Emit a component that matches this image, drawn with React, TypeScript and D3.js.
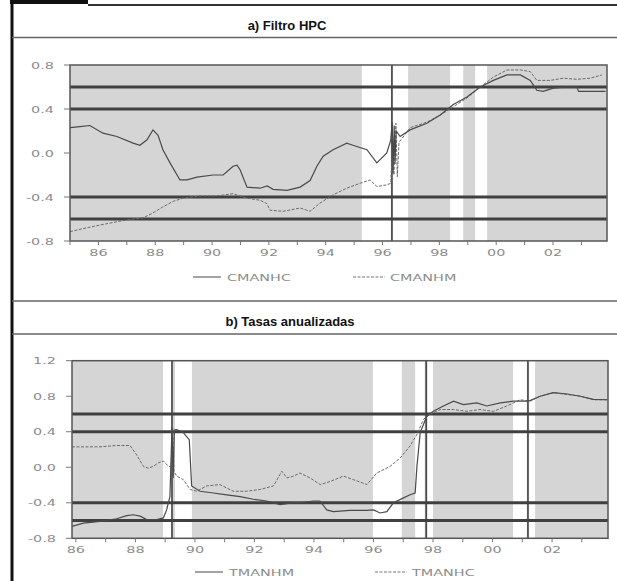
import React from 'react';
import * as d3 from 'd3';

// ---------- Data (decimal year, value) ----------
const CMANHC: [number, number][] = [
  [1985.0, 0.23], [1985.35, 0.24], [1985.7, 0.25], [1986.16, 0.18], [1986.65, 0.15], [1987.22, 0.09],
  [1987.46, 0.07], [1987.71, 0.12], [1987.92, 0.21], [1988.1, 0.16], [1988.27, 0.03],
  [1988.52, -0.09], [1988.87, -0.245], [1989.12, -0.245], [1989.47, -0.22], [1990.04, -0.2],
  [1990.39, -0.2], [1990.74, -0.12], [1990.88, -0.11], [1990.99, -0.155], [1991.23, -0.31],
  [1991.69, -0.32], [1991.94, -0.3], [1992.15, -0.33], [1992.64, -0.34], [1993.1, -0.31],
  [1993.45, -0.25], [1993.69, -0.12], [1993.91, -0.03], [1994.26, 0.03], [1994.74, 0.09],
  [1994.96, 0.07], [1995.45, 0.03], [1995.8, -0.09], [1996.15, 0.0], [1996.29, 0.12],
  [1996.34, 0.28], [1996.37, -0.18], [1996.41, 0.25], [1996.44, -0.1], [1996.48, 0.2],
  [1996.62, 0.15], [1996.97, 0.21], [1997.56, 0.27], [1998.03, 0.345], [1998.49, 0.44],
  [1998.97, 0.51], [1999.44, 0.6], [1999.9, 0.66], [2000.38, 0.71], [2000.85, 0.71],
  [2001.2, 0.66], [2001.43, 0.57], [2001.65, 0.56], [2002.01, 0.59], [2002.49, 0.6],
  [2002.84, 0.6], [2002.9, 0.56], [2003.31, 0.56], [2003.85, 0.56],
];

const CMANHM: [number, number][] = [
  [1985.0, -0.715], [1985.59, -0.68], [1986.06, -0.655], [1986.64, -0.625], [1987.22, -0.6],
  [1987.57, -0.59], [1987.92, -0.545], [1988.27, -0.49], [1988.63, -0.44], [1988.98, -0.41],
  [1989.58, -0.39], [1990.17, -0.39], [1990.74, -0.37], [1991.22, -0.41], [1991.69, -0.43],
  [1991.93, -0.46], [1992.04, -0.52], [1992.5, -0.53], [1993.1, -0.5], [1993.45, -0.53],
  [1993.8, -0.455], [1994.26, -0.38], [1994.74, -0.32], [1995.21, -0.275], [1995.56, -0.245],
  [1995.8, -0.305], [1996.15, -0.29], [1996.29, -0.275], [1996.35, 0.05], [1996.4, -0.2],
  [1996.47, 0.27], [1996.52, -0.215], [1996.58, 0.1], [1996.65, 0.12], [1996.97, 0.23],
  [1997.56, 0.28], [1998.03, 0.345], [1998.49, 0.42], [1998.97, 0.5], [1999.44, 0.6],
  [1999.9, 0.69], [2000.38, 0.755], [2000.85, 0.755], [2001.2, 0.74], [2001.43, 0.66],
  [2001.9, 0.66], [2002.36, 0.68], [2002.84, 0.67], [2003.31, 0.68], [2003.72, 0.71],
];

const TMANHM: [number, number][] = [
  [1985.87, -0.665], [1986.25, -0.63], [1986.81, -0.61], [1987.37, -0.58], [1987.71, -0.545],
  [1987.93, -0.535], [1988.16, -0.55], [1988.38, -0.59], [1988.72, -0.59], [1988.94, -0.57],
  [1989.05, -0.48], [1989.16, -0.33], [1989.23, 0.45], [1989.27, -0.12], [1989.31, 0.42],
  [1989.39, 0.425], [1989.61, 0.39], [1989.81, 0.31], [1989.89, -0.21], [1990.17, -0.27],
  [1990.62, -0.29], [1991.07, -0.31], [1991.52, -0.33], [1991.96, -0.36], [1992.41, -0.38],
  [1992.86, -0.42], [1993.31, -0.4], [1993.53, -0.4], [1993.98, -0.38], [1994.2, -0.38],
  [1994.43, -0.48], [1994.65, -0.5], [1995.21, -0.485], [1995.78, -0.485], [1996.0, -0.48],
  [1996.22, -0.515], [1996.45, -0.5], [1996.67, -0.4], [1997.01, -0.345], [1997.23, -0.31],
  [1997.4, -0.29], [1997.46, 0.01], [1997.57, 0.39], [1997.79, 0.575], [1998.01, 0.63],
  [1998.35, 0.69], [1998.69, 0.745], [1999.02, 0.705], [1999.47, 0.725], [1999.81, 0.69],
  [2000.26, 0.725], [2000.7, 0.745], [2001.15, 0.745], [2001.26, 0.75], [2001.6, 0.8],
  [2002.04, 0.84], [2002.5, 0.825], [2002.95, 0.8], [2003.39, 0.765], [2003.86, 0.76],
];

const TMANHC: [number, number][] = [
  [1985.87, 0.23], [1986.81, 0.23], [1987.37, 0.245], [1987.82, 0.245], [1988.04, 0.14],
  [1988.27, 0.01], [1988.43, -0.01], [1988.6, 0.01], [1988.77, 0.05], [1988.94, 0.07],
  [1989.05, 0.03], [1989.2, 0.0], [1989.25, 0.46], [1989.3, -0.05], [1989.39, -0.1],
  [1989.61, -0.14], [1989.84, -0.25], [1990.06, -0.27], [1990.4, -0.21], [1990.84, -0.195],
  [1991.29, -0.27], [1991.74, -0.27], [1992.19, -0.25], [1992.64, -0.21], [1992.92, -0.045],
  [1993.09, -0.12], [1993.31, -0.1], [1993.53, -0.065], [1993.87, -0.12], [1994.21, -0.195],
  [1994.54, -0.16], [1994.99, -0.1], [1995.33, -0.14], [1995.78, -0.195], [1996.11, -0.065],
  [1996.56, 0.01], [1996.9, 0.105], [1997.23, 0.24], [1997.46, 0.37], [1997.68, 0.54],
  [1997.9, 0.595], [1998.24, 0.65], [1998.68, 0.65], [1999.14, 0.63], [1999.58, 0.65],
  [2000.03, 0.63], [2000.48, 0.69], [2000.93, 0.76], [2001.26, 0.745], [2001.6, 0.8],
  [2002.04, 0.84], [2002.5, 0.82], [2002.95, 0.8], [2003.39, 0.76], [2003.86, 0.76],
];

const A_WHITE: [number, number][] = [[1995.27, 1996.29], [1996.37, 1996.9], [1998.38, 1998.84], [1999.26, 1999.68]];
const A_VLINES = [1996.33];
const B_WHITE: [number, number][] = [
  [1988.93, 1989.2], [1989.33, 1989.9], [1995.98, 1996.95], [1997.4, 1997.72],
  [1997.82, 1998.0], [2000.69, 2001.15], [2001.23, 2001.43],
];
const B_VLINES = [1989.23, 1997.77, 2001.19];
const REF_LINES = [0.6, 0.4, -0.4, -0.6];
const A_YTICKS = [0.8, 0.4, 0.0, -0.4, -0.8];
const B_YTICKS = [1.2, 0.8, 0.4, 0.0, -0.4, -0.8];
const YEAR_LABELS = [1986, 1988, 1990, 1992, 1994, 1996, 1998, 2000, 2002];

const TXT = '#8c8c8c';
const LABEL_FONT = 'DejaVu Sans, sans-serif';

type PanelProps = {
  left: number; right: number; top: number; bottom: number;
  xDomain: [number, number]; yDomain: [number, number]; yTicks: number[];
  white: [number, number][]; vlines: number[];
  solid: [number, number][]; dashed: [number, number][];
  legendY: number; solidName: string; dashedName: string;
  legSolidX: number; legDashedX: number;
};

function StretchText({ x, y, anchor, children, size = 9 }: any) {
  return (
    <text transform={`translate(${x},${y}) scale(1.6,1)`} textAnchor={anchor} fontSize={size}
      fontFamily={LABEL_FONT} fill={TXT}>{children}</text>
  );
}

function Panel(p: PanelProps) {
  const x = d3.scaleLinear().domain(p.xDomain).range([p.left, p.right]);
  const y = d3.scaleLinear().domain(p.yDomain).range([p.bottom, p.top]);
  const line = d3.line<[number, number]>().x(d => x(d[0])).y(d => y(d[1]));
  const years = d3.range(Math.ceil(p.xDomain[0]), Math.floor(p.xDomain[1]) + 1);
  return (
    <g>
      <rect x={p.left} y={p.top} width={p.right - p.left} height={p.bottom - p.top} fill="#d5d5d5" />
      {p.white.map((w, i) => (
        <rect key={i} x={x(w[0])} y={p.top} width={x(w[1]) - x(w[0])} height={p.bottom - p.top} fill="#ffffff" />
      ))}
      {p.vlines.map((v, i) => (
        <line key={i} x1={x(v)} x2={x(v)} y1={p.top} y2={p.bottom} stroke="#3a3a3a" strokeWidth={1.5} />
      ))}
      {REF_LINES.map((r, i) => (
        <line key={i} x1={p.left} x2={p.right} y1={y(r)} y2={y(r)} stroke="#404040" strokeWidth={3} />
      ))}
      <path d={line(p.dashed) || ''} fill="none" stroke="#6a6a6a" strokeWidth={1} strokeDasharray="3,1.5" />
      <path d={line(p.solid) || ''} fill="none" stroke="#4a4a4a" strokeWidth={1.2} />
      <rect x={p.left} y={p.top} width={p.right - p.left} height={p.bottom - p.top} fill="none" stroke="#555" strokeWidth={1.5} />
      {p.yTicks.map((t, i) => (
        <g key={i}>
          <line x1={p.left - 6} x2={p.left} y1={y(t)} y2={y(t)} stroke="#777" strokeWidth={1} />
          <StretchText x={p.left - 16} y={y(t) + 3.5} anchor="end">{t.toFixed(1)}</StretchText>
        </g>
      ))}
      {years.map((yr, i) => (
        <line key={i} x1={x(yr)} x2={x(yr)} y1={p.bottom} y2={p.bottom + 4} stroke="#777" strokeWidth={1} />
      ))}
      {YEAR_LABELS.map((yr, i) => (
        <StretchText key={i} x={x(yr)} y={p.bottom + 15} anchor="middle">{String(yr % 100).padStart(2, '0')}</StretchText>
      ))}
      <line x1={p.legSolidX} x2={p.legSolidX + 28} y1={p.legendY} y2={p.legendY} stroke="#666" strokeWidth={1.2} />
      <StretchText x={p.legSolidX + 34} y={p.legendY + 3.5} anchor="start">{p.solidName}</StretchText>
      <line x1={p.legDashedX} x2={p.legDashedX + 32} y1={p.legendY} y2={p.legendY} stroke="#777" strokeWidth={1} strokeDasharray="3,1.5" />
      <StretchText x={p.legDashedX + 37} y={p.legendY + 3.5} anchor="start">{p.dashedName}</StretchText>
    </g>
  );
}

export default function App() {
  return (
    <svg width={617} height={581} style={{ position: 'absolute', left: 0, top: 0, background: '#fff' }}>
      <rect x={10} y={0} width={78} height={4} fill="#111" />
      <line x1={88} x2={617} y1={5} y2={5} stroke="#333" strokeWidth={2} />
      <line x1={12} x2={12} y1={0} y2={581} stroke="#111" strokeWidth={3} />
      <line x1={12} x2={617} y1={37.5} y2={37.5} stroke="#666" strokeWidth={1.5} />
      <text x={287} y={30} textAnchor="middle" fontFamily="Liberation Sans Narrow, Liberation Sans, Arial, sans-serif"
        fontWeight="bold" fontSize={13} fill="#111">a) Filtro HPC</text>
      <line x1={12} x2={617} y1={301} y2={301} stroke="#666" strokeWidth={1.5} />
      <text x={290} y={326} textAnchor="middle" fontFamily="Liberation Sans Narrow, Liberation Sans, Arial, sans-serif"
        fontWeight="bold" fontSize={13} fill="#111">b) Tasas anualizadas</text>
      <line x1={12} x2={617} y1={334} y2={334} stroke="#666" strokeWidth={1.5} />
      <Panel left={70} right={607} top={65} bottom={241} xDomain={[1985.0, 2003.9]} yDomain={[-0.8, 0.8]}
        yTicks={A_YTICKS} white={A_WHITE} vlines={A_VLINES} solid={CMANHC} dashed={CMANHM}
        legendY={277} solidName="CMANHC" dashedName="CMANHM" legSolidX={193} legDashedX={353} />
      <Panel left={72} right={608} top={360.7} bottom={538.3} xDomain={[1985.87, 2003.88]} yDomain={[-0.8, 1.2]}
        yTicks={B_YTICKS} white={B_WHITE} vlines={B_VLINES} solid={TMANHM} dashed={TMANHC}
        legendY={572} solidName="TMANHM" dashedName="TMANHC" legSolidX={195} legDashedX={375} />
    </svg>
  );
}
